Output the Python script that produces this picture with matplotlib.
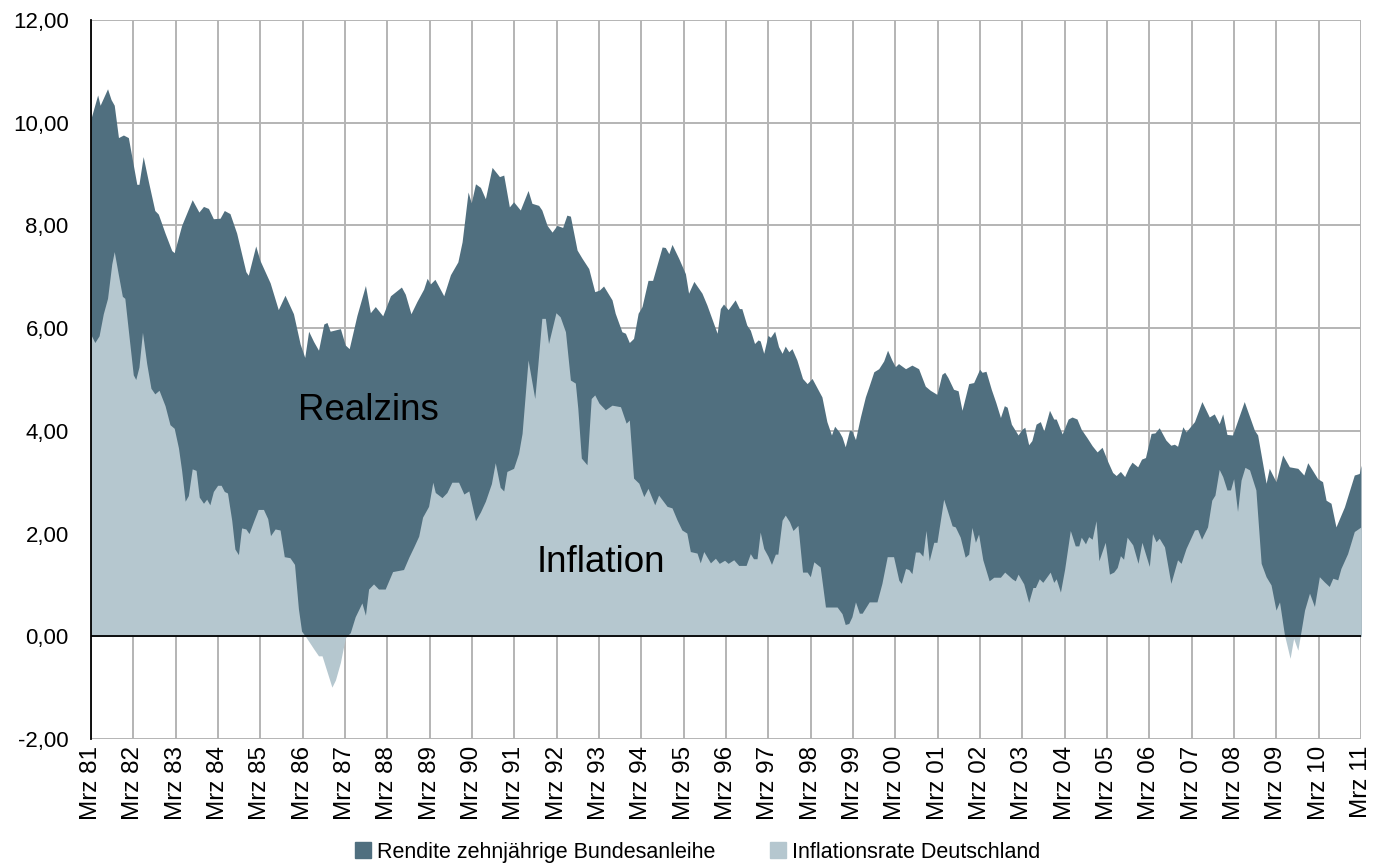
import matplotlib
matplotlib.use("Agg")
import matplotlib.pyplot as plt
from matplotlib.patches import Patch
import numpy as np

plt.rcParams['font.family'] = ['Liberation Sans Narrow', 'Liberation Sans', 'DejaVu Sans']

# months since Mrz 1981 (percent)
yield_month = [
    0, 1.9, 2.6, 4.7, 5.7, 6.6, 7.8, 9.2, 10.6, 13, 13.6, 14.8, 16.3, 18.1, 19.1, 21, 22.9, 23.6,
    25.7, 28.7, 30.6, 31.9, 33.3, 34.7, 36.6, 37.8, 39.4, 41.3, 43.9, 44.6, 46.7, 47.9, 50.8,
    53.1, 55, 57.4, 59.3, 60.6, 61.7, 63.1, 64.5, 66, 66.9, 67.8, 70.7, 72.1, 73.2, 75.4, 77.8,
    79.2, 80.6, 82.7, 84.9, 88, 89.1, 90.7, 92.4, 94.3, 95.3, 96.2, 97.5, 100, 101.9, 104,
    105.2, 106.9, 107.8, 109, 110.4, 111.8, 113.7, 115.8, 117, 118.6, 119.8, 121.7, 123.9, 125,
    126.9, 127.8, 129.3, 130.7, 132.1, 133.7, 134.9, 135.9, 137.8, 139.2, 141.1, 142.8, 144.1,
    145.3, 147.7, 148.6, 150.5, 151.5, 152.6, 153.8, 155.1, 156.2, 157.9, 159.2, 161.9, 162.8,
    163.8, 164.7, 166.6, 168.5, 169.4, 170.9, 173.2, 174.6, 177.5, 178.4, 179.3, 180.6, 182.6,
    183.8, 184.5, 185.9, 186.9, 188.1, 189.1, 189.7, 190.7, 191.9, 192.6, 193.8, 194.9, 195.9,
    196.8, 197.8, 198.7, 200.1, 201.7, 203, 204.4, 205.8, 207.2, 208.6, 209.9, 210.8, 212.1,
    212.9, 213.8, 215, 215.7, 216.7, 218.1, 219.5, 220.5, 221.9, 223.3, 224.7, 225.8, 227, 228,
    228.9, 230.9, 232.7, 234.6, 236.5, 237.9, 239.8, 241.2, 242, 242.9, 244.5, 245.8, 246.9,
    248.8, 250.2, 251.9, 252.6, 253.7, 255.2, 256.5, 257.8, 258.9, 259.7, 260.9, 262.8, 263.9,
    264.7, 265.8, 266.7, 267.9, 269.1, 270.1, 271.7, 272.9, 273.6, 275.3, 277, 278.1, 279.5,
    280.7, 282.3, 283.8, 285.2, 286.6, 288.3, 289.6, 290.6, 291.8, 293, 294.2, 295.1, 296.7,
    297.8, 298.9, 300.5, 301.6, 302.8, 304.7, 306.1, 307.1, 308, 309.5, 310.4, 312.8, 314.9,
    317, 318.4, 319.8, 320.8, 322, 323.6, 326.9, 329.8, 330.7, 333.1, 334, 335.9, 337.8, 339.7,
    342.1, 343.8, 344.9, 347.7, 349.1, 350.1, 351.5, 352.9, 355.3, 358.1, 359.5, 360,
]
yield_val = [
    10.08, 10.54, 10.34, 10.66, 10.45, 10.34, 9.71, 9.76, 9.71, 8.8, 8.8, 9.34, 8.85, 8.29, 8.22,
    7.85, 7.51, 7.47, 8.0, 8.5, 8.26, 8.37, 8.33, 8.13, 8.14, 8.29, 8.23, 7.85, 7.1, 7.03, 7.6,
    7.32, 6.88, 6.36, 6.64, 6.28, 5.69, 5.43, 5.94, 5.74, 5.57, 6.08, 6.11, 5.94, 5.99, 5.67,
    5.6, 6.25, 6.83, 6.3, 6.42, 6.24, 6.63, 6.8, 6.66, 6.28, 6.52, 6.76, 6.97, 6.86, 6.95, 6.63,
    7.04, 7.29, 7.68, 8.65, 8.44, 8.81, 8.74, 8.52, 9.13, 8.95, 8.98, 8.36, 8.46, 8.3, 8.68,
    8.43, 8.39, 8.3, 8.0, 7.87, 8.0, 7.96, 8.2, 8.18, 7.52, 7.36, 7.16, 6.71, 6.74, 6.82, 6.55,
    6.29, 5.93, 5.9, 5.72, 5.8, 6.29, 6.42, 6.93, 6.93, 7.58, 7.57, 7.45, 7.63, 7.36, 7.06,
    6.68, 6.91, 6.68, 6.45, 5.9, 6.38, 6.47, 6.36, 6.55, 6.38, 6.38, 6.06, 5.96, 5.7, 5.77,
    5.75, 5.51, 5.86, 5.82, 5.94, 5.64, 5.51, 5.65, 5.54, 5.6, 5.38, 5.02, 4.92, 5.02, 4.84,
    4.66, 4.18, 3.92, 4.09, 3.98, 3.88, 3.69, 4.01, 4.0, 3.83, 4.27, 4.66, 4.86, 5.15, 5.21,
    5.36, 5.57, 5.38, 5.25, 5.31, 5.21, 5.28, 5.21, 4.87, 4.79, 4.71, 5.1, 5.14, 5.04, 4.81,
    4.78, 4.4, 4.92, 4.94, 5.2, 5.14, 5.16, 4.81, 4.55, 4.26, 4.49, 4.46, 4.13, 3.92, 4.03,
    4.07, 3.73, 3.81, 4.13, 4.18, 4.0, 4.4, 4.23, 4.23, 3.94, 4.23, 4.27, 4.23, 4.03, 3.87,
    3.71, 3.59, 3.68, 3.39, 3.19, 3.13, 3.21, 3.11, 3.29, 3.39, 3.3, 3.45, 3.48, 3.95, 3.96,
    4.06, 3.82, 3.72, 3.74, 3.7, 4.08, 3.98, 4.18, 4.57, 4.27, 4.33, 4.14, 4.33, 3.93, 3.92,
    4.57, 4.01, 3.92, 2.98, 3.27, 3.01, 3.53, 3.3, 3.27, 3.14, 3.38, 3.07, 3.01, 2.65, 2.59,
    2.13, 2.52, 3.14, 3.17, 3.33,
]

infl_month = [
    0, 1.1, 2.3, 3.5, 4.7, 5.9, 6.6, 7.8, 8.9, 9.6, 10.8, 12, 12.7, 13.6, 14.6, 15.8, 17, 18.1,
    19.3, 21, 22.4, 23.6, 24.8, 25.7, 26.7, 27.6, 28.7, 29.8, 30.7, 31.9, 32.8, 33.7, 34.7,
    35.9, 36.9, 37.8, 38.7, 39.9, 40.8, 41.8, 42.7, 43.9, 44.8, 46, 47.4, 48.9, 50.1, 50.9,
    52.2, 53.6, 54.8, 56.4, 57.7, 58.8, 59.7, 60.8, 63.1, 64.5, 65.5, 68.3, 69.3, 70.7, 72.1,
    73.5, 74.9, 76.8, 77.8, 78.7, 80.1, 81.5, 83.4, 85.5, 88.6, 90.1, 91.5, 92.9, 94, 95.7,
    96.9, 97.6, 99.5, 100.9, 102.3, 104.2, 105.7, 107.1, 109, 110.4, 111.8, 113.5, 114.6, 116,
    117, 117.9, 119.8, 121.2, 122.2, 122.9, 123.9, 125.8, 126.7, 127.8, 128.8, 129.7, 131.8,
    133, 134.5, 135.9, 137.3, 138, 139, 140.6, 141.8, 142.8, 144, 145.8, 147.7, 150.1, 151.7,
    152.6, 153.8, 155.3, 156.7, 157.9, 159.8, 160.9, 163.3, 164.7, 166.1, 167.5, 168.9, 169.9,
    171.8, 172.7, 173.7, 175.6, 177, 178.1, 179.6, 180.6, 182.2, 183.6, 185.7, 186.9, 187.8,
    188.8, 189.7, 190.7, 191.9, 192.9, 194, 194.7, 195.9, 196.8, 198, 199, 200.4, 201.7, 203,
    203.9, 204.9, 206.7, 208.2, 209.6, 211.5, 212.9, 213.8, 214.8, 215.7, 216.7, 217.8, 218.6,
    220.6, 222.8, 224.2, 225.7, 227.5, 229, 229.7, 230.9, 231.8, 232.7, 233.7, 234.8, 235.8,
    236.7, 237.6, 238.9, 239.8, 241.7, 242.6, 244.1, 245, 246.4, 247.8, 248.8, 249.7, 250.7,
    251.6, 252.8, 254.6, 255.9, 257.8, 259, 261.1, 262, 262.8, 264.4, 265.8, 267, 267.7, 268.8,
    269.8, 271.9, 272.9, 273.6, 274.8, 276, 277.6, 279, 280, 280.7, 281.9, 282.8, 283.8, 284.9,
    285.7, 287.5, 288.7, 289.9, 290.9, 291.8, 292.7, 293.7, 295.3, 296.8, 297.9, 300, 300.9,
    301.9, 302.8, 304.3, 306.1, 308, 309, 310.4, 312.8, 313.7, 314.8, 316.5, 317.7, 318.6,
    319.8, 320.8, 322, 323, 323.9, 325, 326, 327.1, 328.4, 330.2, 331.7, 333.1, 334.5, 335.9,
    336.9, 338.3, 339.9, 340.9, 342.1, 344, 345.4, 346.8, 348.2, 349.6, 351, 352, 353.4, 354.3,
    356.2, 358.1, 360,
]
infl_val = [
    5.87, 5.72, 5.85, 6.28, 6.58, 7.25, 7.49, 7.03, 6.62, 6.58, 5.83, 5.09, 5.0, 5.24, 5.92,
    5.31, 4.83, 4.72, 4.79, 4.49, 4.12, 4.05, 3.67, 3.23, 2.63, 2.74, 3.26, 3.23, 2.71, 2.59,
    2.67, 2.56, 2.82, 2.94, 2.94, 2.82, 2.79, 2.26, 1.7, 1.59, 2.11, 2.09, 2.0, 2.22, 2.47,
    2.47, 2.29, 1.96, 2.09, 2.07, 1.55, 1.53, 1.4, 0.54, 0.1, 0.0, -0.24, -0.38, -0.38, -0.99,
    -0.85, -0.51, -0.03, 0.07, 0.38, 0.65, 0.41, 0.92, 1.02, 0.92, 0.92, 1.26, 1.3, 1.54, 1.74,
    1.95, 2.32, 2.53, 3.0, 2.8, 2.7, 2.8, 3.0, 3.0, 2.77, 2.83, 2.25, 2.42, 2.63, 2.97, 3.38,
    2.9, 2.83, 3.21, 3.27, 3.56, 3.95, 4.54, 5.38, 4.63, 5.31, 6.19, 6.19, 5.7, 6.3, 6.22,
    5.93, 4.99, 4.93, 4.44, 3.47, 3.34, 4.63, 4.7, 4.54, 4.41, 4.5, 4.47, 4.15, 4.21, 3.08,
    2.98, 2.72, 2.88, 2.56, 2.75, 2.53, 2.5, 2.27, 2.07, 2.01, 1.65, 1.62, 1.43, 1.65, 1.43,
    1.52, 1.42, 1.48, 1.42, 1.49, 1.38, 1.38, 1.61, 1.51, 1.51, 2.03, 1.71, 1.56, 1.4, 1.6,
    1.6, 2.26, 2.36, 2.23, 2.06, 2.16, 1.25, 1.25, 1.16, 1.45, 1.35, 0.57, 0.57, 0.57, 0.44,
    0.23, 0.25, 0.38, 0.67, 0.45, 0.45, 0.67, 0.67, 1.03, 1.55, 1.55, 1.09, 1.03, 1.32, 1.3,
    1.22, 1.64, 1.64, 1.56, 2.06, 1.47, 1.83, 1.83, 2.67, 2.48, 2.15, 2.13, 1.93, 1.54, 1.6,
    2.12, 1.83, 1.99, 1.49, 1.08, 1.15, 1.15, 1.25, 1.12, 1.08, 1.21, 1.02, 0.66, 0.95, 0.95,
    1.12, 1.05, 1.25, 1.05, 1.12, 0.86, 1.31, 2.06, 1.76, 1.76, 1.93, 1.8, 1.94, 1.89, 2.25,
    1.47, 1.83, 1.21, 1.25, 1.34, 1.57, 1.5, 1.93, 1.78, 1.42, 1.83, 1.36, 2.0, 1.84, 1.91,
    1.74, 1.03, 1.49, 1.42, 1.71, 2.07, 2.08, 1.89, 2.13, 2.65, 2.75, 3.25, 3.11, 2.85, 2.85,
    3.07, 2.43, 3.04, 3.29, 3.24, 2.85, 1.42, 1.16, 1.0, 0.51, 0.67, 0.03, -0.43, -0.04, -0.27,
    0.51, 0.84, 0.58, 1.16, 1.06, 0.97, 1.13, 1.1, 1.32, 1.61, 2.04, 2.13,
]

tick_months = list(range(0, 361, 12))
tick_labels = ["Mrz %02d" % (y % 100) for y in range(1981, 2012)]
y_ticks = [-2, 0, 2, 4, 6, 8, 10, 12]

dark = "#506f7f"
light = "#b5c7cf"

fig = plt.figure(figsize=(13.76, 8.68), dpi=100)
ax = fig.add_axes([0.0661, 0.1486, 0.9230, 0.8284])

ax.fill_between(yield_month, 0, yield_val, color=dark, lw=0, zorder=2)
ax.fill_between(infl_month, 0, infl_val, color=light, lw=0, zorder=3)
ax.axhline(0, color="black", lw=1.3, zorder=4)

ax.set_xlim(0, 360)
ax.set_ylim(-2, 12)
ax.set_yticks(y_ticks)
ax.set_yticklabels([("%.2f" % v).replace(".", ",") for v in y_ticks])
ax.set_xticks(tick_months)
ax.set_xticklabels(tick_labels, rotation=90)

ax.set_axisbelow(True)
ax.grid(True, color="#b4b4b4", lw=1.4, zorder=0)
ax.tick_params(axis="y", length=0, labelsize=16, pad=16)
ax.tick_params(axis="x", length=0, labelsize=17.5, pad=5)
for s in ["top", "right", "bottom"]:
    ax.spines[s].set_visible(False)
ax.spines["left"].set_color("black")
ax.spines["left"].set_linewidth(1.3)
ax.spines["left"].set_zorder(5)

ax.text(58.7, 4.4, "Realzins", fontsize=26.5, ha="left", va="center", zorder=6)
ax.text(126.4, 1.44, "Inflation", fontsize=26.5, ha="left", va="center", zorder=6)

handles = [Patch(color=dark, label="Rendite zehnjährige Bundesanleihe"),
           Patch(color=light, label="Inflationsrate Deutschland")]
fig.legend(handles=handles, loc="center", bbox_to_anchor=(0.507, 0.018), ncol=2,
           frameon=False, fontsize=15.5, handlelength=0.75, handleheight=0.75,
           handletextpad=0.3, columnspacing=2.5)

fig.savefig("out.png", dpi=100)
